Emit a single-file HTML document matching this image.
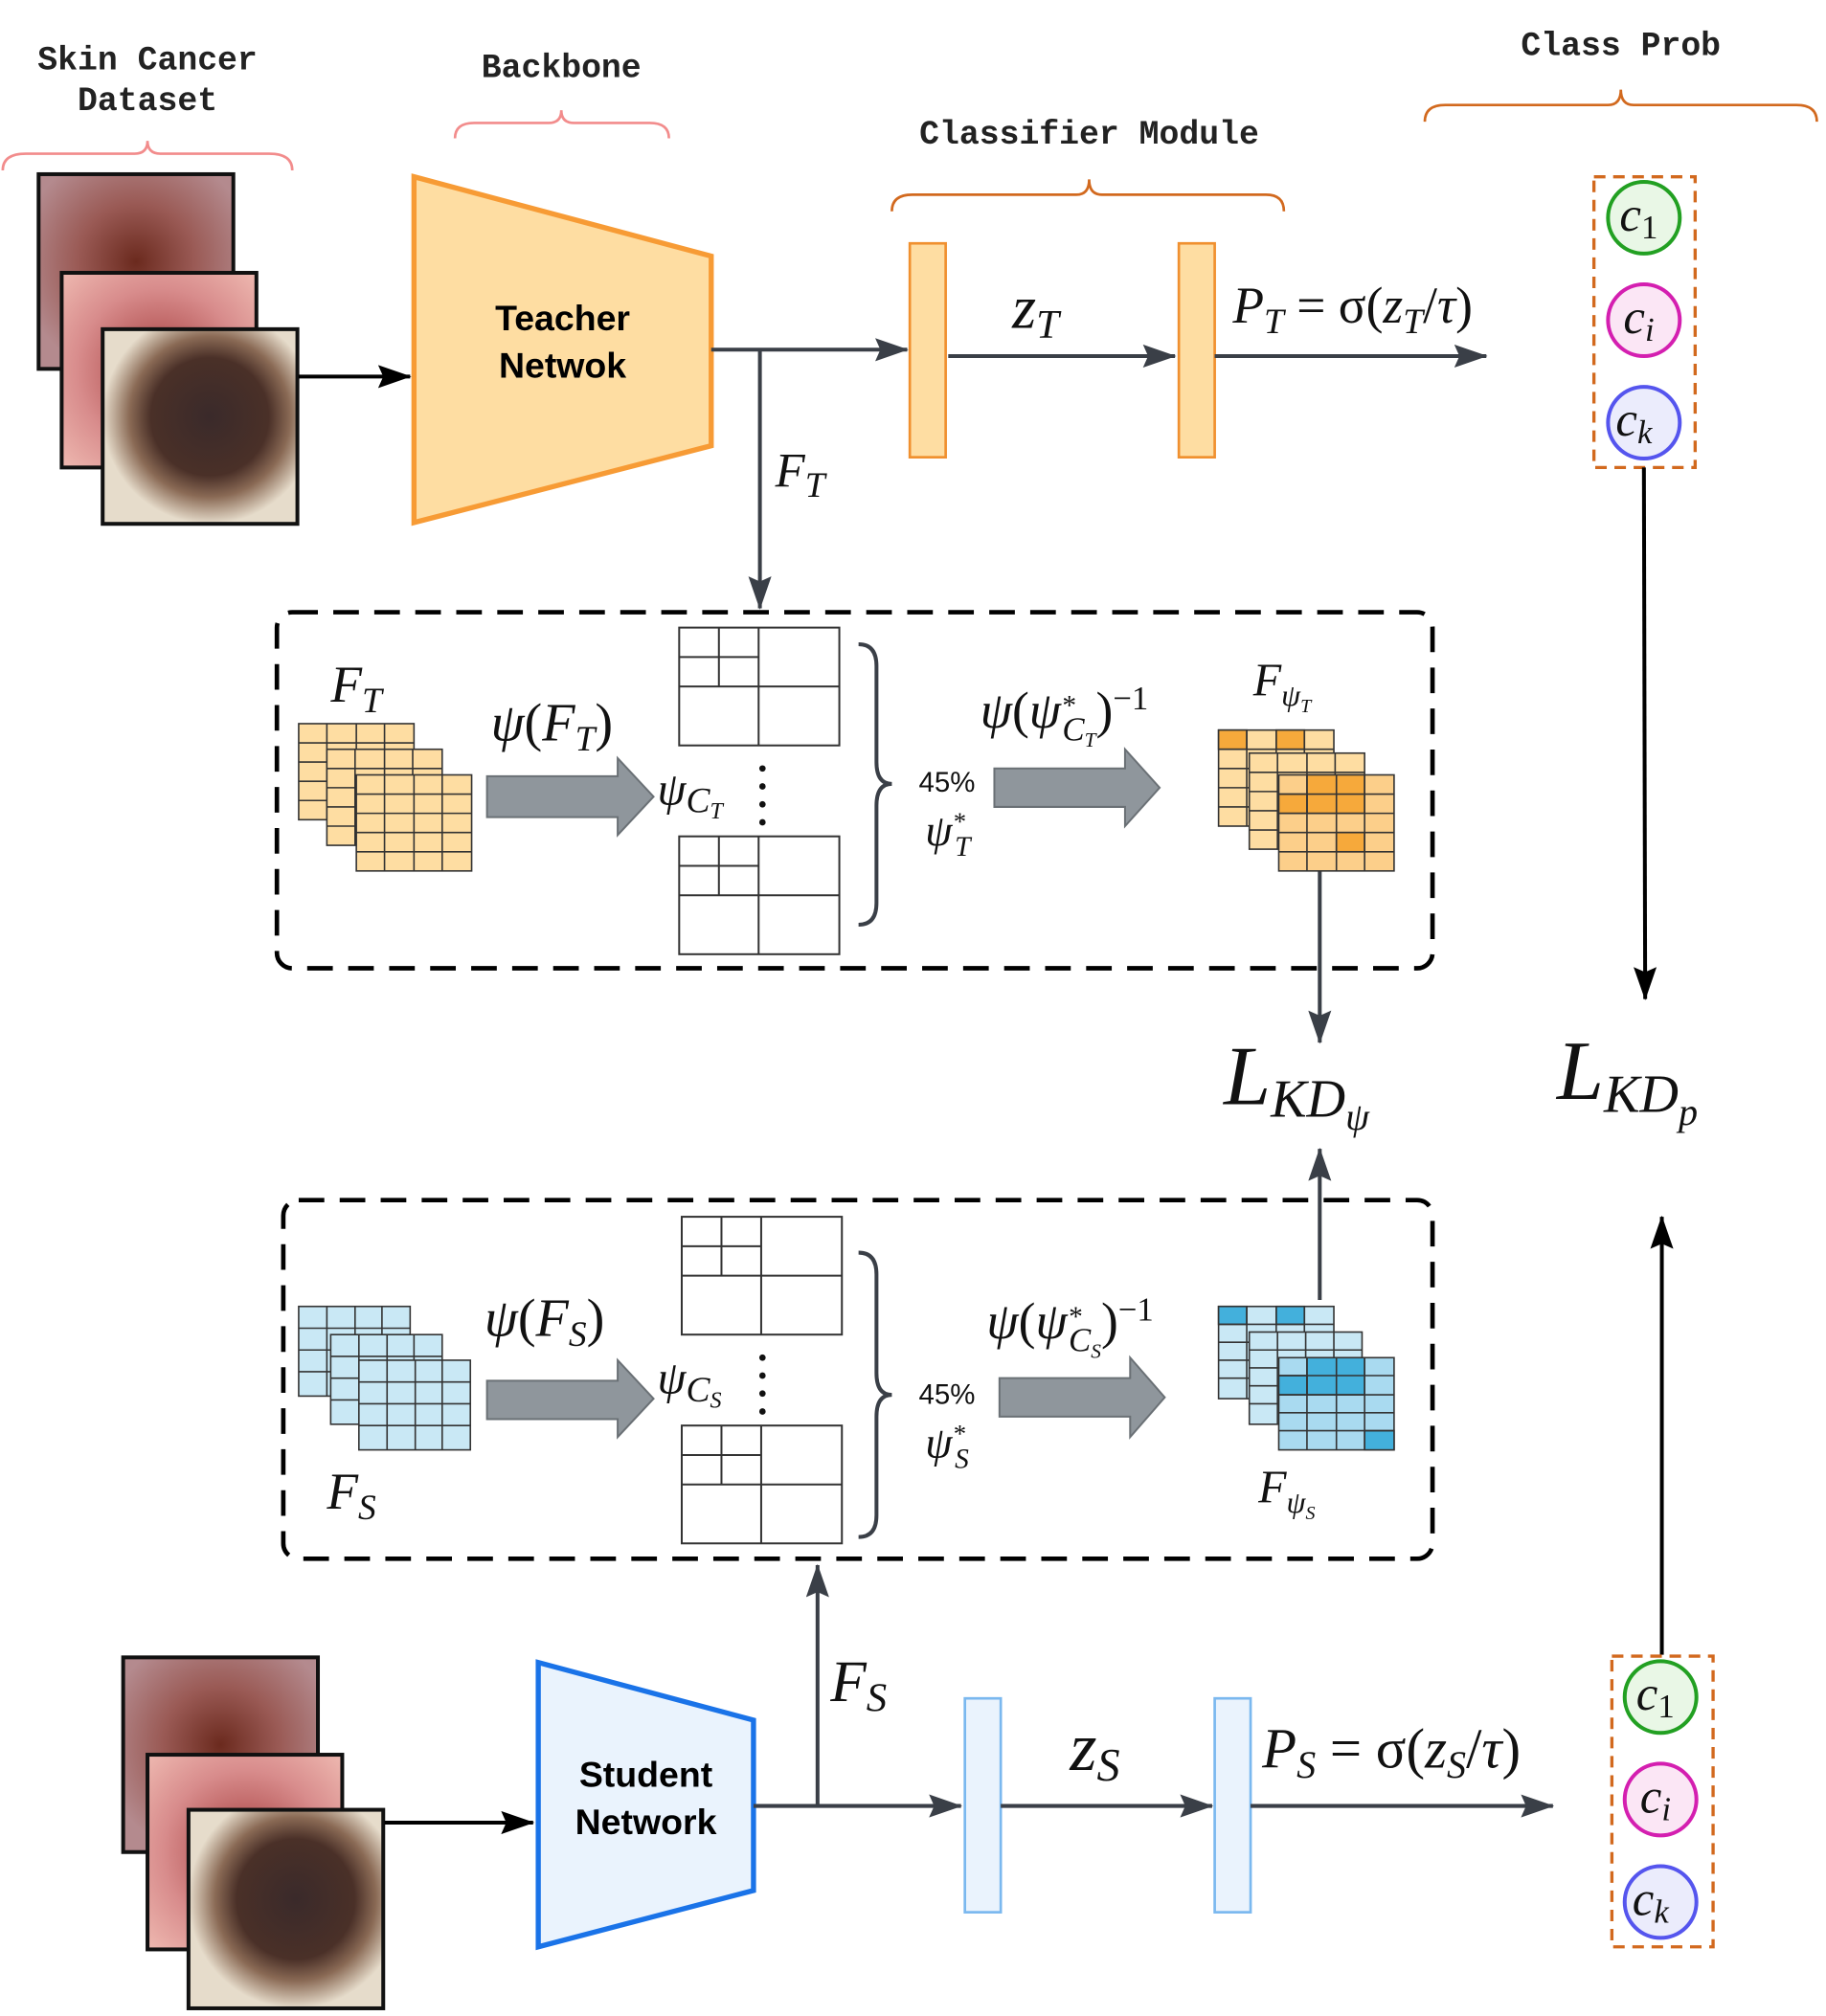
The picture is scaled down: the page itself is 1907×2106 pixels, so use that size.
<!DOCTYPE html>
<html><head><meta charset="utf-8"><style>
html,body{margin:0;padding:0;background:#fff;}
svg{display:block;}
.mono{font-family:"Liberation Mono",monospace;font-weight:bold;fill:#222;}
.m{font-family:"Liberation Serif",serif;font-style:italic;fill:#111;}
.mu{font-family:"Liberation Serif",serif;fill:#111;}
.sans{font-family:"Liberation Sans",sans-serif;}
</style></head><body>
<svg width="1907" height="2106" viewBox="0 0 1425 1574" xmlns="http://www.w3.org/2000/svg">
<defs>
<marker id="ahb" markerWidth="26" markerHeight="18" refX="25" refY="9" orient="auto" markerUnits="userSpaceOnUse"><path d="M0,0 L26,9 L0,18 L4,9 z" fill="#3a3f47"/></marker>
<marker id="ahk" markerWidth="26" markerHeight="18" refX="25" refY="9" orient="auto" markerUnits="userSpaceOnUse"><path d="M0,0 L26,9 L0,18 L4,9 z" fill="#000"/></marker>
<radialGradient id="sk1" cx="0.5" cy="0.45" r="0.6"><stop offset="0" stop-color="#6b2a1e"/><stop offset="0.5" stop-color="#9a5a55"/><stop offset="1" stop-color="#b48a8e"/></radialGradient>
<radialGradient id="sk2" cx="0.5" cy="0.5" r="0.7"><stop offset="0" stop-color="#a23a3a"/><stop offset="0.6" stop-color="#d88c8c"/><stop offset="1" stop-color="#eeb8b0"/></radialGradient>
<radialGradient id="sk3" cx="0.55" cy="0.45" r="0.55"><stop offset="0" stop-color="#3a2a2a"/><stop offset="0.55" stop-color="#4a3028"/><stop offset="0.75" stop-color="#8a6a55"/><stop offset="1" stop-color="#e6dccb"/></radialGradient>
</defs>

<text class="mono" x="115" y="54" font-size="26" text-anchor="middle">Skin Cancer</text>
<text class="mono" x="115" y="86" font-size="26" text-anchor="middle">Dataset</text>
<path d="M2,133 Q2,120 20,120 L105,120 Q115,120 115,110 Q115,120 125,120 L210,120 Q228,120 228,133" fill="none" stroke="#f28c8c" stroke-width="2"/>
<text class="mono" x="438" y="60" font-size="26" text-anchor="middle">Backbone</text>
<path d="M355,108 Q355,96 370,96 L428,96 Q438,96 438,86 Q438,96 448,96 L507,96 Q522,96 522,108" fill="none" stroke="#f28c8c" stroke-width="2"/>
<text class="mono" x="850" y="112" font-size="26" text-anchor="middle">Classifier Module</text>
<path d="M696,165 Q696,152 712,152 L840,152 Q850,152 850,140 Q850,152 860,152 L988,152 Q1002,152 1002,165" fill="none" stroke="#d2691e" stroke-width="2"/>
<text class="mono" x="1265" y="43" font-size="26" text-anchor="middle">Class Prob</text>
<path d="M1112,95 Q1112,82 1128,82 L1255,82 Q1265,82 1265,70 Q1265,82 1275,82 L1402,82 Q1418,82 1418,95" fill="none" stroke="#d2691e" stroke-width="2"/>

<rect x="30" y="136" width="152" height="152" fill="url(#sk1)" stroke="#111" stroke-width="3"/>
<rect x="48" y="213" width="152" height="152" fill="url(#sk2)" stroke="#111" stroke-width="3"/>
<rect x="80" y="257" width="152" height="152" fill="url(#sk3)" stroke="#111" stroke-width="3"/>
<line x1="233" y1="294" x2="320" y2="294" stroke="#000" stroke-width="3" marker-end="url(#ahk)"/>
<polygon points="323,138 555,200 555,348 323,408" fill="#fedda2" stroke="#f79b35" stroke-width="4"/>
<text class="sans" x="439" y="258" font-size="28" font-weight="bold" text-anchor="middle">Teacher</text>
<text class="sans" x="439" y="295" font-size="28" font-weight="bold" text-anchor="middle">Netwok</text>

<line x1="555" y1="273" x2="708" y2="273" stroke="#3a3f47" stroke-width="3" marker-end="url(#ahb)"/>
<line x1="593" y1="273" x2="593" y2="475" stroke="#3a3f47" stroke-width="3" marker-end="url(#ahb)"/>
<text class="m" x="605" y="380" font-size="38">F<tspan font-size="28" dy="8">T</tspan></text>
<rect x="710" y="190" width="28" height="167" fill="#fedda2" stroke="#f0902f" stroke-width="2"/>
<rect x="920" y="190" width="28" height="167" fill="#fedda2" stroke="#f0902f" stroke-width="2"/>
<line x1="740" y1="278" x2="917" y2="278" stroke="#3a3f47" stroke-width="3" marker-end="url(#ahb)"/>
<text class="m" x="790" y="256" font-size="48">z<tspan font-size="32" dy="8">T</tspan></text>
<line x1="948" y1="278" x2="1160" y2="278" stroke="#3a3f47" stroke-width="3" marker-end="url(#ahb)"/>
<text class="m" x="962" y="252" font-size="40">P<tspan font-size="28" dy="8">T</tspan><tspan dy="-8" font-style="normal"> = σ(</tspan>z<tspan font-size="28" dy="8">T</tspan><tspan dy="-8" font-style="normal">/</tspan>τ<tspan font-style="normal">)</tspan></text>

<rect x="1244" y="138" width="79" height="227" fill="none" stroke="#d2691e" stroke-width="2.5" stroke-dasharray="9,6"/>
<circle cx="1283" cy="170" r="28" fill="#e9f7e6" stroke="#22a022" stroke-width="3"/>
<circle cx="1283" cy="250" r="28" fill="#fbe6f5" stroke="#d41fb0" stroke-width="3"/>
<circle cx="1283" cy="330" r="28" fill="#ebecfc" stroke="#5555ee" stroke-width="3"/>
<text class="m" x="1264" y="180" font-size="38">c<tspan font-size="26" font-style="normal" dy="6">1</tspan></text>
<text class="m" x="1267" y="260" font-size="38">c<tspan font-size="26" dy="6">i</tspan></text>
<text class="m" x="1261" y="340" font-size="38">c<tspan font-size="26" dy="6">k</tspan></text>
<line x1="1283" y1="365" x2="1284" y2="780" stroke="#000" stroke-width="3" marker-end="url(#ahk)"/>

<text class="m" x="955" y="862" font-size="66">L<tspan font-size="42" dy="10">KD</tspan><tspan font-size="30" dy="10">ψ</tspan></text>
<text class="m" x="1215" y="858" font-size="66">L<tspan font-size="42" dy="10">KD</tspan><tspan font-size="30" dy="10">p</tspan></text>
<line x1="1030" y1="680" x2="1030" y2="814" stroke="#3a3f47" stroke-width="3" marker-end="url(#ahb)"/>
<line x1="1030" y1="1015" x2="1030" y2="897" stroke="#3a3f47" stroke-width="3" marker-end="url(#ahb)"/>
<line x1="1297" y1="1292" x2="1297" y2="950" stroke="#000" stroke-width="3" marker-end="url(#ahk)"/>

<!-- Teacher box -->
<rect x="216" y="478" width="902" height="278" rx="12" fill="none" stroke="#000" stroke-width="3.5" stroke-dasharray="20,12"/>
<text class="m" x="258" y="548" font-size="40">F<tspan font-size="28" dy="8">T</tspan></text>
<g stroke="#333" stroke-width="1.2" fill="#fedda2">
<rect x="233" y="565" width="90" height="75"/><path d="M233,580H323M233,595H323M233,610H323M233,625H323M255,565V640M278,565V640M300,565V640" fill="none"/>
<rect x="255" y="585" width="90" height="75"/><path d="M255,600H345M255,615H345M255,630H345M255,645H345M277,585V660M300,585V660M322,585V660" fill="none"/>
<rect x="278" y="605" width="90" height="75"/><path d="M278,620H368M278,635H368M278,650H368M278,665H368M300,605V680M323,605V680M345,605V680" fill="none"/>
</g>
<text class="m" x="383" y="578" font-size="42">ψ<tspan font-style="normal">(</tspan>F<tspan font-size="28" dy="8">T</tspan><tspan dy="-8" font-style="normal">)</tspan></text>
<polygon points="380,606 482,606 482,592 510,622 482,652 482,638 380,638" fill="#8f969c" stroke="#6a7075" stroke-width="1.5"/>
<text class="m" x="513" y="628" font-size="36">ψ<tspan font-size="28" dy="6">C</tspan><tspan font-size="18" dy="5">T</tspan></text>
<g stroke="#333" stroke-width="1.5" fill="#fff">
<rect x="530" y="490" width="125" height="92"/><path d="M592,490V582M530,536H655M530,513H592M561,490V536"/>
<rect x="530" y="653" width="125" height="92"/><path d="M592,653V745M530,699H655M530,676H592M561,653V699"/>
</g>
<g fill="#111"><circle cx="595" cy="600" r="2.5"/><circle cx="595" cy="614" r="2.5"/><circle cx="595" cy="628" r="2.5"/><circle cx="595" cy="642" r="2.5"/></g>
<path d="M670,503 Q684,503 684,520 L684,595 Q684,612 696,612 Q684,612 684,629 L684,705 Q684,722 670,722" fill="none" stroke="#3a3f47" stroke-width="3"/>
<text class="sans" x="717" y="618" font-size="22" fill="#111">45%</text>
<text class="m" x="722" y="660" font-size="34">ψ<tspan font-size="20" dy="-12">*</tspan><tspan font-size="22" dx="-8" dy="20">T</tspan></text>
<text class="m" x="765" y="568" font-size="40">ψ<tspan font-style="normal">(</tspan>ψ<tspan font-size="22" dy="-10">*</tspan><tspan font-size="26" dx="-10" dy="20">C</tspan><tspan font-size="16" dy="5">T</tspan><tspan font-style="normal" dy="-15">)</tspan><tspan font-size="26" font-style="normal" dy="-14">−1</tspan></text>
<polygon points="776,600 878,600 878,585 905,615 878,645 878,630 776,630" fill="#8f969c" stroke="#6a7075" stroke-width="1.5"/>
<text class="m" x="978" y="543" font-size="36">F<tspan font-size="24" dy="8">ψ</tspan><tspan font-size="15" dy="5">T</tspan></text>
<g stroke="#333" stroke-width="1.2">
<rect x="951" y="570" width="90" height="75" fill="#fedda2"/>
<rect x="951" y="570" width="22" height="15" fill="#f6a93b"/><rect x="996" y="570" width="22" height="15" fill="#f6a93b"/>
<path d="M951,585H1041M951,600H1041M951,615H1041M951,630H1041M973,570V645M996,570V645M1018,570V645" fill="none"/>
<rect x="975" y="588" width="90" height="75" fill="#fedda2"/>
<path d="M975,603H1065M975,618H1065M975,633H1065M975,648H1065M997,588V663M1020,588V663M1042,588V663" fill="none"/>
<rect x="998" y="605" width="90" height="75" fill="#fccf8a"/>
<rect x="1020" y="605" width="45" height="30" fill="#f6a93b"/><rect x="998" y="620" width="22" height="15" fill="#f6a93b"/><rect x="1043" y="650" width="22" height="15" fill="#f6a93b"/>
<path d="M998,620H1088M998,635H1088M998,650H1088M998,665H1088M1020,605V680M1043,605V680M1065,605V680" fill="none"/>
</g>

<!-- Student box -->
<rect x="221" y="937" width="897" height="280" rx="12" fill="none" stroke="#000" stroke-width="3.5" stroke-dasharray="20,12"/>
<g stroke="#333" stroke-width="1.2" fill="#c9e8f5">
<rect x="233" y="1020" width="87" height="70"/><path d="M233,1037H320M233,1054H320M233,1071H320M255,1020V1090M277,1020V1090M298,1020V1090" fill="none"/>
<rect x="258" y="1042" width="87" height="70"/><path d="M258,1059H345M258,1076H345M258,1093H345M280,1042V1112M302,1042V1112M323,1042V1112" fill="none"/>
<rect x="280" y="1062" width="87" height="70"/><path d="M280,1079H367M280,1096H367M280,1113H367M302,1062V1132M324,1062V1132M345,1062V1132" fill="none"/>
</g>
<text class="m" x="255" y="1178" font-size="40">F<tspan font-size="28" dy="8">S</tspan></text>
<text class="m" x="378" y="1043" font-size="42">ψ<tspan font-style="normal">(</tspan>F<tspan font-size="28" dy="8">S</tspan><tspan dy="-8" font-style="normal">)</tspan></text>
<polygon points="380,1078 482,1078 482,1062 510,1092 482,1122 482,1108 380,1108" fill="#8f969c" stroke="#6a7075" stroke-width="1.5"/>
<text class="m" x="513" y="1088" font-size="36">ψ<tspan font-size="28" dy="6">C</tspan><tspan font-size="18" dy="5">S</tspan></text>
<g stroke="#333" stroke-width="1.5" fill="#fff">
<rect x="532" y="950" width="125" height="92"/><path d="M594,950V1042M532,996H657M532,973H594M563,950V996"/>
<rect x="532" y="1113" width="125" height="92"/><path d="M594,1113V1205M532,1159H657M532,1136H594M563,1113V1159"/>
</g>
<g fill="#111"><circle cx="595" cy="1060" r="2.5"/><circle cx="595" cy="1074" r="2.5"/><circle cx="595" cy="1088" r="2.5"/><circle cx="595" cy="1102" r="2.5"/></g>
<path d="M670,978 Q684,978 684,995 L684,1072 Q684,1089 696,1089 Q684,1089 684,1106 L684,1183 Q684,1200 670,1200" fill="none" stroke="#3a3f47" stroke-width="3"/>
<text class="sans" x="717" y="1096" font-size="22" fill="#111">45%</text>
<text class="m" x="722" y="1138" font-size="34">ψ<tspan font-size="20" dy="-12">*</tspan><tspan font-size="22" dx="-8" dy="20">S</tspan></text>
<text class="m" x="770" y="1045" font-size="40">ψ<tspan font-style="normal">(</tspan>ψ<tspan font-size="22" dy="-10">*</tspan><tspan font-size="26" dx="-10" dy="20">C</tspan><tspan font-size="16" dy="5">S</tspan><tspan font-style="normal" dy="-15">)</tspan><tspan font-size="26" font-style="normal" dy="-14">−1</tspan></text>
<polygon points="780,1076 882,1076 882,1060 909,1091 882,1122 882,1106 780,1106" fill="#8f969c" stroke="#6a7075" stroke-width="1.5"/>
<g stroke="#333" stroke-width="1.2">
<rect x="951" y="1020" width="90" height="72" fill="#c9e8f5"/>
<rect x="951" y="1020" width="22" height="14" fill="#43b0dc"/><rect x="996" y="1020" width="22" height="14" fill="#43b0dc"/>
<path d="M951,1034H1041M951,1048H1041M951,1062H1041M951,1076H1041M973,1020V1092M996,1020V1092M1018,1020V1092" fill="none"/>
<rect x="975" y="1040" width="88" height="72" fill="#c9e8f5"/>
<path d="M975,1054H1063M975,1068H1063M975,1082H1063M975,1096H1063M997,1040V1112M1019,1040V1112M1041,1040V1112" fill="none"/>
<rect x="998" y="1060" width="90" height="72" fill="#a9daf0"/>
<rect x="1020" y="1060" width="45" height="29" fill="#43b0dc"/><rect x="998" y="1074" width="22" height="15" fill="#43b0dc"/><rect x="1065" y="1117" width="23" height="15" fill="#43b0dc"/>
<path d="M998,1074H1088M998,1089H1088M998,1103H1088M998,1117H1088M1020,1060V1132M1043,1060V1132M1065,1060V1132" fill="none"/>
</g>
<text class="m" x="982" y="1173" font-size="36">F<tspan font-size="24" dy="8">ψ</tspan><tspan font-size="15" dy="5">S</tspan></text>

<rect x="96" y="1294" width="152" height="152" fill="url(#sk1)" stroke="#111" stroke-width="3"/>
<rect x="115" y="1370" width="152" height="152" fill="url(#sk2)" stroke="#111" stroke-width="3"/>
<rect x="147" y="1413" width="152" height="155" fill="url(#sk3)" stroke="#111" stroke-width="3"/>
<line x1="300" y1="1423" x2="416" y2="1423" stroke="#000" stroke-width="3" marker-end="url(#ahk)"/>
<polygon points="420,1298 588,1343 588,1476 420,1520" fill="#eaf3fd" stroke="#1a73e8" stroke-width="4"/>
<text class="sans" x="504" y="1395" font-size="28" font-weight="bold" text-anchor="middle">Student</text>
<text class="sans" x="504" y="1432" font-size="28" font-weight="bold" text-anchor="middle">Network</text>
<line x1="588" y1="1410" x2="750" y2="1410" stroke="#3a3f47" stroke-width="3" marker-end="url(#ahb)"/>
<line x1="638" y1="1410" x2="638" y2="1222" stroke="#3a3f47" stroke-width="3" marker-end="url(#ahb)"/>
<text class="m" x="648" y="1328" font-size="46">F<tspan font-size="32" dy="8">S</tspan></text>
<rect x="753" y="1326" width="28" height="167" fill="#eaf3fd" stroke="#7ab8ef" stroke-width="2"/>
<rect x="948" y="1326" width="28" height="167" fill="#eaf3fd" stroke="#7ab8ef" stroke-width="2"/>
<line x1="781" y1="1410" x2="946" y2="1410" stroke="#3a3f47" stroke-width="3" marker-end="url(#ahb)"/>
<text class="m" x="835" y="1382" font-size="54">z<tspan font-size="36" dy="8">S</tspan></text>
<line x1="976" y1="1410" x2="1212" y2="1410" stroke="#3a3f47" stroke-width="3" marker-end="url(#ahb)"/>
<text class="m" x="985" y="1380" font-size="44">P<tspan font-size="30" dy="8">S</tspan><tspan dy="-8" font-style="normal"> = σ(</tspan>z<tspan font-size="30" dy="8">S</tspan><tspan dy="-8" font-style="normal">/</tspan>τ<tspan font-style="normal">)</tspan></text>

<rect x="1258" y="1293" width="79" height="227" fill="none" stroke="#d2691e" stroke-width="2.5" stroke-dasharray="9,6"/>
<circle cx="1296" cy="1325" r="28" fill="#e9f7e6" stroke="#22a022" stroke-width="3"/>
<circle cx="1296" cy="1405" r="28" fill="#fbe6f5" stroke="#d41fb0" stroke-width="3"/>
<circle cx="1296" cy="1485" r="28" fill="#ebecfc" stroke="#5555ee" stroke-width="3"/>
<text class="m" x="1277" y="1335" font-size="38">c<tspan font-size="26" font-style="normal" dy="6">1</tspan></text>
<text class="m" x="1280" y="1415" font-size="38">c<tspan font-size="26" dy="6">i</tspan></text>
<text class="m" x="1274" y="1495" font-size="38">c<tspan font-size="26" dy="6">k</tspan></text>
</svg>
</body></html>
